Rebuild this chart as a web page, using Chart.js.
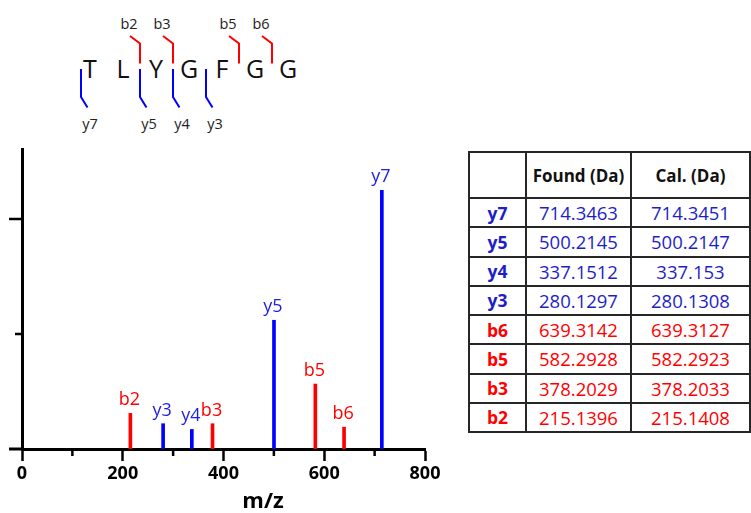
<!DOCTYPE html>
<html>
<head>
<meta charset="utf-8">
<script src="https://cdn.jsdelivr.net/npm/chart.js@4.4.0/dist/chart.umd.min.js"></script>
<style>
    html, body { margin: 0; padding: 0; background: #fff; }
    body { width: 751px; height: 513px; position: relative; overflow: hidden; font-family: 'Open Sans', sans-serif; }
    #seq { position: absolute; left: 0; top: 0; }
    #wrap { position: absolute; left: 0; top: 140px; width: 450px; height: 373px; }
    #xtitle { position: absolute; left: 213px; width: 100px; top: 488px; text-align: center;
              font-size: 22px; line-height: 22px; font-weight: bold; color: #000; }
    #ions { position: absolute; left: 468px; top: 151px; border-collapse: collapse; }
    #ions td { border: 2px solid #262626; text-align: center; padding: 0; font-size: 18.5px; }
    #ions tr { height: 29.25px; }
    #ions tr.head { height: 46px; }
    #ions tr.head td { font-weight: bold; font-size: 17px; color: #111; }
    #ions td.ion { font-weight: bold; font-size: 17.5px; }
</style>
</head>
<body>
<svg id="seq" width="340" height="140"></svg>
<div id="wrap"><canvas id="spectrum" width="450" height="373"></canvas></div>
<div id="xtitle">m/z</div>
<table id="ions"></table>

<script>
// Datos del espectro
const sequence = ['T', 'L', 'Y', 'G', 'F', 'G', 'G'];
const ionNames = ['y7', 'y5', 'y4', 'y3', 'b6', 'b5', 'b3', 'b2'];
const foundMass = [714.3463, 500.2145, 337.1512, 280.1297, 639.3142, 582.2928, 378.2029, 215.1396];
const calMass = ['714.3451', '500.2147', '337.153', '280.1308', '639.3127', '582.2923', '378.2033', '215.1408'];
const intensity = [2.25, 1.12, 0.17, 0.22, 0.19, 0.565, 0.22, 0.31];
const xTickStep = 200;
const xMinorTicks = [100, 300, 500, 700];
const yMajorTicks = [2];
const yMinorTicks = [1];

const RED = '#ff0000';
const BLUE = '#0000ff';
const BLUE_TEXT = '#1f1fe0';
const BLUE_TABLE = '#1e1ec8';

// Secuencia con los cortes b / y
const svg = document.getElementById('seq');
function add(tag, attrs, text) {
    const el = document.createElementNS('http://www.w3.org/2000/svg', tag);
    for (const k in attrs) el.setAttribute(k, attrs[k]);
    if (text) el.textContent = text;
    svg.appendChild(el);
}
const letterX = i => 90 + 33 * i;
const cutX = k => letterX(k) - (k === 0 ? 9 : 16);

sequence.forEach((aa, i) => {
    add('text', { x: letterX(i), y: 77.5, 'font-size': 25, 'text-anchor': 'middle', fill: '#111', 'font-family': 'Open Sans' }, aa);
});
ionNames.forEach(name => {
    const n = parseInt(name.slice(1));
    if (name[0] === 'b') {
        const cx = cutX(n);
        add('path', { d: `M${cx - 10} 36 L${cx} 43.5 L${cx} 63.5`, stroke: RED, 'stroke-width': 2, fill: 'none' });
        add('text', { x: cx - 11, y: 28.5, 'font-size': 14.5, 'text-anchor': 'middle', fill: '#222', 'font-family': 'Open Sans' }, name);
    } else {
        const cx = cutX(sequence.length - n);
        add('path', { d: `M${cx} 69 L${cx} 97 L${cx + 6.5} 107.5`, stroke: BLUE, 'stroke-width': 2, fill: 'none' });
        add('text', { x: cx + 9, y: 128.5, 'font-size': 14.5, 'text-anchor': 'middle', fill: '#222', 'font-family': 'Open Sans' }, name);
    }
});

// Tabla de masas
const table = document.getElementById('ions');
let html = '<tr class="head"><td style="width:55px"></td><td style="width:103px">Found (Da)</td><td style="width:117px">Cal. (Da)</td></tr>';
ionNames.forEach((name, i) => {
    const c = name[0] === 'b' ? RED : BLUE_TABLE;
    html += `<tr><td class="ion" style="color:${c}">${name}</td><td style="color:${c}">${foundMass[i].toFixed(4)}</td><td style="color:${c}">${calMass[i]}</td></tr>`;
});
table.innerHTML = html;

// Etiquetas sobre cada pico
const peakLabels = {
    id: 'peakLabels',
    afterDatasetsDraw(chart) {
        const ctx = chart.ctx;
        ctx.save();
        ctx.font = '18px "Open Sans"';
        ctx.textAlign = 'center';
        ctx.textBaseline = 'alphabetic';
        chart.data.datasets.forEach((ds, d) => {
            chart.getDatasetMeta(d).data.forEach((bar, j) => {
                ctx.fillStyle = ds.labelColor;
                ctx.fillText(ds.data[j].name, bar.x - 1, bar.y - 8);
            });
        });
        ctx.restore();
    }
};

// Ticks menores y prolongacion del eje x
const axisExtras = {
    id: 'axisExtras',
    afterDraw(chart) {
        const { ctx, scales: { x, y } } = chart;
        const base = y.getPixelForValue(0);
        ctx.save();
        ctx.strokeStyle = '#000';
        ctx.lineWidth = 3;
        ctx.beginPath();
        ctx.moveTo(x.left - 13, base);
        ctx.lineTo(x.left, base);
        ctx.stroke();
        ctx.lineWidth = 2.5;
        ctx.beginPath();
        xMinorTicks.forEach(v => {
            const px = x.getPixelForValue(v);
            ctx.moveTo(px, base);
            ctx.lineTo(px, base + 7);
        });
        yMajorTicks.forEach(v => {
            const py = y.getPixelForValue(v);
            ctx.moveTo(x.left - 13, py);
            ctx.lineTo(x.left, py);
        });
        yMinorTicks.forEach(v => {
            const py = y.getPixelForValue(v);
            ctx.moveTo(x.left - 7, py);
            ctx.lineTo(x.left, py);
        });
        ctx.stroke();
        ctx.restore();
    }
};

function ionData(prefix) {
    return ionNames
        .map((name, i) => ({ x: foundMass[i], y: intensity[i], name: name }))
        .filter(p => p.name[0] === prefix);
}

Chart.defaults.font.family = "'Open Sans', sans-serif";

const chart = new Chart(document.getElementById('spectrum').getContext('2d'), {
    type: 'bar',
    data: {
        datasets: [
            { label: 'y ions', data: ionData('y'), backgroundColor: BLUE, labelColor: BLUE_TEXT, barThickness: 3, grouped: false },
            { label: 'b ions', data: ionData('b'), backgroundColor: RED, labelColor: RED, barThickness: 3, grouped: false }
        ]
    },
    options: {
        responsive: false,
        animation: false,
        devicePixelRatio: 1,
        layout: { padding: { top: 9, right: 25, left: 0, bottom: 0 } },
        plugins: { legend: { display: false }, tooltip: { enabled: false } },
        scales: {
            x: {
                type: 'linear',
                min: 0,
                max: 800,
                offset: false,
                afterFit: s => { s.height = 64; },
                ticks: { stepSize: xTickStep, color: '#000', font: { size: 18, weight: 'bold' }, padding: 2, maxRotation: 0 },
                grid: { offset: false, drawOnChartArea: false, drawTicks: true, tickLength: 12, tickWidth: 2.5, tickColor: '#000' },
                border: { display: true, color: '#000', width: 3 }
            },
            y: {
                min: 0,
                max: 2.61,
                afterFit: s => { s.width = 22; },
                ticks: { display: false },
                grid: { display: false },
                border: { display: true, color: '#000', width: 3 }
            }
        }
    },
    plugins: [peakLabels, axisExtras]
});
</script>
</body>
</html>
